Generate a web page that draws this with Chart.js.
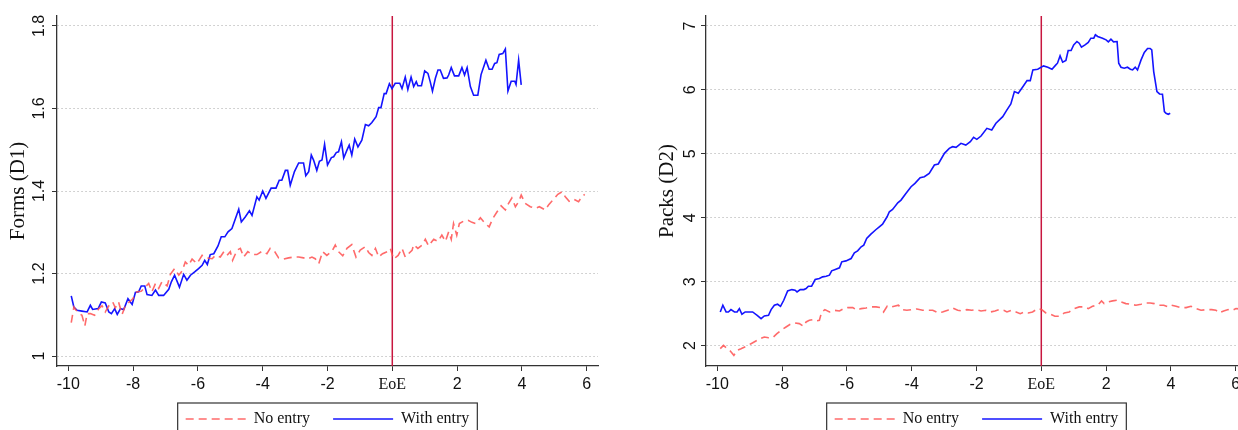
<!DOCTYPE html>
<html>
<head>
<meta charset="UTF-8">
<title>forms_packs.html</title>
<script src="https://cdn.jsdelivr.net/npm/chart.js"></script>
<style>
    html, body { margin: 0; padding: 0; background: #fff; }
    body { width: 1238px; height: 430px; overflow: hidden; position: relative; }
    .panel { position: absolute; top: 0; width: 620px; height: 430px; overflow: hidden; }
</style>
</head>
<body>
<div class="panel" style="left:0px"><canvas id="formsChart" width="620" height="445"></canvas></div>
<div class="panel" style="left:649px"><canvas id="packsChart" width="620" height="445"></canvas></div>

<script>
    // years relative to EoE, [t, value]
    const formsNoEntry = [
        [-9.91,1.081],[-9.83,1.119],[-9.76,1.111],[-9.66,1.103],[-9.58,1.099],[-9.49,1.073],[-9.42,1.103],[-9.32,1.103],
        [-9.19,1.099],[-9.06,1.115],[-8.96,1.122],[-8.86,1.107],[-8.75,1.122],[-8.63,1.131],[-8.55,1.117],[-8.45,1.131],
        [-8.34,1.101],[-8.24,1.122],[-8.12,1.131],[-8.01,1.139],[-7.88,1.156],[-7.75,1.157],[-7.62,1.168],[-7.52,1.176],
        [-7.42,1.156],[-7.31,1.176],[-7.21,1.164],[-7.11,1.180],[-6.95,1.170],[-6.85,1.198],[-6.72,1.212],[-6.59,1.196],
        [-6.49,1.206],[-6.39,1.228],[-6.29,1.220],[-6.18,1.235],[-6.03,1.224],[-5.87,1.244],[-5.72,1.238],[-5.56,1.236],
        [-5.46,1.244],[-5.31,1.240],[-5.20,1.253],[-5.10,1.244],[-5.00,1.253],[-4.93,1.232],[-4.79,1.257],[-4.69,1.261],
        [-4.59,1.240],[-4.46,1.253],[-4.33,1.246],[-4.18,1.246],[-4.02,1.254],[-3.87,1.248],[-3.77,1.261],[-3.63,1.253],
        [-3.51,1.238],[-3.35,1.235],[-3.20,1.238],[-3.05,1.240],[-2.89,1.240],[-2.74,1.238],[-2.63,1.235],[-2.48,1.240],
        [-2.38,1.236],[-2.27,1.224],[-2.15,1.253],[-2.02,1.244],[-1.86,1.254],[-1.76,1.269],[-1.66,1.253],[-1.53,1.243],
        [-1.40,1.261],[-1.25,1.270],[-1.12,1.240],[-0.99,1.257],[-0.83,1.265],[-0.73,1.251],[-0.63,1.244],[-0.52,1.261],
        [-0.42,1.240],[-0.30,1.248],[-0.16,1.253],[-0.06,1.261],[0.04,1.235],[0.18,1.244],[0.30,1.261],[0.40,1.240],
        [0.50,1.248],[0.61,1.256],[0.66,1.270],[0.79,1.261],[0.92,1.269],[1.02,1.283],[1.12,1.267],[1.28,1.283],
        [1.41,1.278],[1.53,1.293],[1.64,1.278],[1.74,1.301],[1.82,1.283],[1.89,1.321],[1.99,1.293],[2.07,1.321],
        [2.20,1.327],[2.34,1.329],[2.46,1.324],[2.58,1.321],[2.72,1.335],[2.87,1.321],[2.99,1.313],[3.10,1.333],
        [3.23,1.349],[3.36,1.364],[3.49,1.354],[3.59,1.370],[3.69,1.383],[3.80,1.362],[3.90,1.374],[3.98,1.390],
        [4.10,1.370],[4.26,1.362],[4.41,1.358],[4.54,1.362],[4.72,1.354],[4.83,1.367],[4.98,1.380],[5.11,1.392],
        [5.24,1.398],[5.34,1.386],[5.46,1.375],[5.60,1.380],[5.75,1.374],[5.85,1.386],[5.94,1.392]
    ];
    const formsWithEntry = [
        [-9.91,1.146],[-9.83,1.119],[-9.73,1.111],[-9.58,1.109],[-9.42,1.107],[-9.32,1.123],[-9.25,1.113],[-9.08,1.115],
        [-8.98,1.131],[-8.86,1.129],[-8.75,1.107],[-8.67,1.103],[-8.57,1.115],[-8.49,1.101],[-8.39,1.115],[-8.29,1.113],
        [-8.16,1.139],[-8.03,1.125],[-7.93,1.154],[-7.83,1.156],[-7.75,1.170],[-7.64,1.170],[-7.57,1.149],[-7.42,1.147],
        [-7.31,1.160],[-7.21,1.147],[-7.06,1.147],[-6.90,1.162],[-6.82,1.180],[-6.72,1.196],[-6.57,1.167],[-6.44,1.198],
        [-6.34,1.184],[-6.23,1.196],[-6.10,1.204],[-5.98,1.212],[-5.87,1.220],[-5.79,1.232],[-5.71,1.222],[-5.62,1.246],
        [-5.51,1.248],[-5.38,1.267],[-5.28,1.289],[-5.17,1.289],[-5.07,1.301],[-4.95,1.309],[-4.74,1.356],[-4.66,1.325],
        [-4.54,1.337],[-4.41,1.352],[-4.33,1.341],[-4.18,1.386],[-4.11,1.378],[-4.00,1.400],[-3.90,1.382],[-3.74,1.407],
        [-3.59,1.407],[-3.49,1.426],[-3.41,1.426],[-3.30,1.450],[-3.23,1.450],[-3.15,1.414],[-3.02,1.447],[-2.89,1.468],
        [-2.74,1.468],[-2.67,1.437],[-2.58,1.447],[-2.50,1.487],[-2.43,1.475],[-2.33,1.450],[-2.25,1.472],[-2.17,1.475],
        [-2.09,1.513],[-2.00,1.463],[-1.88,1.481],[-1.81,1.483],[-1.73,1.493],[-1.66,1.495],[-1.57,1.519],[-1.50,1.480],
        [-1.40,1.499],[-1.33,1.511],[-1.25,1.487],[-1.16,1.526],[-1.06,1.507],[-0.94,1.523],[-0.83,1.561],[-0.73,1.558],
        [-0.63,1.566],[-0.50,1.580],[-0.42,1.602],[-0.35,1.602],[-0.25,1.636],[-0.19,1.636],[-0.09,1.660],[-0.01,1.648],
        [0.09,1.661],[0.23,1.661],[0.30,1.648],[0.40,1.676],[0.48,1.646],[0.58,1.676],[0.66,1.653],[0.74,1.665],
        [0.79,1.655],[0.90,1.655],[1.00,1.691],[1.10,1.685],[1.17,1.665],[1.24,1.642],[1.33,1.673],[1.41,1.693],
        [1.48,1.693],[1.58,1.673],[1.69,1.674],[1.74,1.681],[1.82,1.699],[1.92,1.679],[2.05,1.679],[2.15,1.699],
        [2.23,1.681],[2.31,1.699],[2.41,1.653],[2.51,1.632],[2.64,1.632],[2.74,1.682],[2.89,1.717],[2.99,1.695],
        [3.08,1.695],[3.16,1.709],[3.23,1.711],[3.30,1.731],[3.41,1.733],[3.49,1.744],[3.57,1.642],[3.67,1.666],
        [3.78,1.666],[3.82,1.658],[3.90,1.717],[3.98,1.657]
    ];
    const packsNoEntry = [
        [-9.91,1.953],[-9.81,2.005],[-9.73,1.969],[-9.60,1.916],[-9.49,1.849],[-9.39,1.927],[-9.27,1.953],[-9.11,1.990],
        [-8.96,2.031],[-8.81,2.073],[-8.67,2.110],[-8.55,2.136],[-8.42,2.125],[-8.29,2.125],[-8.16,2.188],[-8.01,2.251],
        [-7.88,2.292],[-7.75,2.334],[-7.60,2.355],[-7.47,2.345],[-7.34,2.303],[-7.26,2.371],[-7.16,2.397],[-7.06,2.407],
        [-6.95,2.386],[-6.85,2.397],[-6.78,2.527],[-6.68,2.564],[-6.54,2.527],[-6.39,2.554],[-6.23,2.543],[-6.10,2.580],
        [-5.98,2.595],[-5.82,2.595],[-5.69,2.554],[-5.56,2.580],[-5.41,2.590],[-5.26,2.606],[-5.10,2.606],[-4.97,2.595],
        [-4.87,2.527],[-4.76,2.616],[-4.69,2.595],[-4.54,2.616],[-4.41,2.632],[-4.28,2.564],[-4.15,2.554],[-4.00,2.564],
        [-3.84,2.574],[-3.66,2.554],[-3.51,2.554],[-3.35,2.554],[-3.18,2.512],[-3.05,2.527],[-2.89,2.554],[-2.74,2.590],
        [-2.58,2.554],[-2.46,2.543],[-2.30,2.564],[-2.15,2.554],[-2.02,2.564],[-1.86,2.543],[-1.71,2.554],[-1.57,2.527],
        [-1.43,2.543],[-1.30,2.564],[-1.16,2.554],[-1.06,2.527],[-0.92,2.554],[-0.78,2.527],[-0.65,2.501],[-0.52,2.527],
        [-0.40,2.512],[-0.27,2.527],[-0.11,2.580],[0.01,2.564],[0.14,2.512],[0.28,2.491],[0.42,2.460],[0.56,2.460],
        [0.71,2.512],[0.86,2.527],[1.02,2.580],[1.17,2.606],[1.33,2.606],[1.45,2.580],[1.58,2.616],[1.74,2.632],
        [1.86,2.700],[1.94,2.658],[2.05,2.684],[2.20,2.700],[2.34,2.710],[2.46,2.684],[2.61,2.658],[2.77,2.648],
        [2.92,2.632],[3.08,2.648],[3.23,2.668],[3.36,2.668],[3.49,2.658],[3.64,2.632],[3.78,2.632],[3.92,2.606],
        [4.02,2.632],[4.16,2.616],[4.31,2.595],[4.47,2.595],[4.62,2.616],[4.77,2.580],[4.93,2.554],[5.11,2.564],
        [5.26,2.564],[5.39,2.554],[5.49,2.512],[5.63,2.543],[5.77,2.564],[5.91,2.554],[6.01,2.580],[6.12,2.575]
    ];
    const packsWithEntry = [
        [-9.91,2.527],[-9.83,2.632],[-9.73,2.527],[-9.66,2.527],[-9.58,2.564],[-9.47,2.527],[-9.39,2.527],[-9.32,2.580],
        [-9.24,2.491],[-9.14,2.527],[-9.01,2.527],[-8.91,2.527],[-8.77,2.475],[-8.65,2.423],[-8.55,2.465],[-8.42,2.475],
        [-8.34,2.564],[-8.24,2.632],[-8.14,2.648],[-8.05,2.616],[-7.95,2.710],[-7.83,2.856],[-7.70,2.877],[-7.60,2.867],
        [-7.54,2.841],[-7.44,2.877],[-7.33,2.877],[-7.26,2.893],[-7.19,2.930],[-7.09,2.930],[-6.98,3.034],[-6.85,3.050],
        [-6.75,3.076],[-6.64,3.086],[-6.54,3.102],[-6.47,3.170],[-6.36,3.191],[-6.23,3.217],[-6.16,3.311],[-6.03,3.326],
        [-5.87,3.363],[-5.77,3.452],[-5.67,3.483],[-5.56,3.546],[-5.48,3.572],[-5.39,3.676],[-5.26,3.744],[-5.10,3.817],
        [-5.00,3.859],[-4.90,3.901],[-4.76,4.016],[-4.69,4.094],[-4.59,4.130],[-4.43,4.235],[-4.33,4.277],[-4.18,4.381],
        [-4.02,4.486],[-3.90,4.538],[-3.74,4.627],[-3.61,4.642],[-3.46,4.695],[-3.30,4.825],[-3.18,4.841],[-2.99,5.008],
        [-2.84,5.086],[-2.74,5.112],[-2.63,5.102],[-2.48,5.164],[-2.33,5.138],[-2.19,5.191],[-2.09,5.258],[-1.99,5.227],
        [-1.86,5.279],[-1.68,5.399],[-1.53,5.373],[-1.40,5.478],[-1.19,5.582],[-1.06,5.687],[-0.94,5.781],[-0.83,5.974],
        [-0.71,5.948],[-0.58,6.042],[-0.44,6.146],[-0.34,6.146],[-0.26,6.313],[-0.11,6.324],[0.07,6.376],[0.20,6.355],
        [0.33,6.324],[0.45,6.392],[0.50,6.418],[0.58,6.533],[0.66,6.433],[0.76,6.460],[0.83,6.616],[0.92,6.616],
        [1.00,6.705],[1.10,6.757],[1.17,6.731],[1.24,6.668],[1.35,6.705],[1.45,6.742],[1.53,6.809],[1.62,6.809],
        [1.67,6.862],[1.74,6.836],[1.89,6.809],[2.00,6.783],[2.07,6.752],[2.15,6.794],[2.23,6.752],[2.34,6.757],
        [2.39,6.418],[2.46,6.355],[2.56,6.339],[2.66,6.355],[2.75,6.324],[2.82,6.313],[2.90,6.355],[2.97,6.313],
        [3.08,6.470],[3.18,6.585],[3.28,6.648],[3.36,6.648],[3.41,6.627],[3.47,6.287],[3.57,5.974],[3.65,5.937],
        [3.74,5.932],[3.80,5.661],[3.85,5.634],[3.92,5.619],[3.98,5.634]
    ];

    const xTicks = [-10, -8, -6, -4, -2, 0, 2, 4, 6];
    const xTickLabels = ['-10', '-8', '-6', '-4', '-2', 'EoE', '2', '4', '6'];
    const formsTicks = [1, 1.2, 1.4, 1.6, 1.8];
    const formsTickLabels = ['1', '1.2', '1.4', '1.6', '1.8'];
    const packsTicks = [2, 3, 4, 5, 6, 7];
    const packsTickLabels = ['2', '3', '4', '5', '6', '7'];
    const eoeAt = 0;
    const seriesNames = ['No entry', 'With entry'];

    Chart.defaults.font.family = "'Liberation Sans', Arial, sans-serif";
    Chart.defaults.color = '#111';

    // red vertical line at end of exclusivity
    const eoeLine = {
        id: 'eoeLine',
        beforeDatasetsDraw(chart) {
            const x = chart.scales.x.getPixelForValue(eoeAt);
            const area = chart.chartArea;
            const ctx = chart.ctx;
            ctx.save();
            ctx.strokeStyle = '#c8163f';
            ctx.lineWidth = 1.5;
            ctx.beginPath();
            ctx.moveTo(x, area.top);
            ctx.lineTo(x, area.bottom);
            ctx.stroke();
            ctx.restore();
        }
    };

    // legend centred under the plot region, a bit nearer the axis, + frame (stata style)
    const legendFrame = {
        id: 'legendFrame',
        afterUpdate(chart) {
            const lg = chart.legend;
            const boxes = lg.legendHitBoxes;
            if (!boxes || !boxes.length) return;
            const l = Math.min(...boxes.map(b => b.left));
            const r = Math.max(...boxes.map(b => b.left + b.width));
            const dx = (chart.chartArea.left + chart.chartArea.right) / 2 - (l + r) / 2;
            const dy = (chart.chartArea.bottom + 45) - boxes[0].top;
            lg.left += dx;
            lg.right += dx;
            lg.top += dy;
            lg.bottom += dy;
            boxes.forEach(b => { b.left += dx; b.top += dy; });
        },
        afterDraw(chart) {
            const boxes = chart.legend.legendHitBoxes;
            if (!boxes || !boxes.length) return;
            const left = Math.min(...boxes.map(b => b.left)) - 8;
            const right = Math.max(...boxes.map(b => b.left + b.width)) + 8;
            const top = boxes[0].top - 8;
            const ctx = chart.ctx;
            ctx.save();
            ctx.strokeStyle = '#333';
            ctx.lineWidth = 1.2;
            ctx.strokeRect(left, top, right - left, 40);
            ctx.restore();
        }
    };

    function toPoints(arr) {
        return arr.map(p => ({x: p[0], y: p[1]}));
    }

    // legend symbols: take dash and width from the line, not the point
    function legendLabels(chart) {
        return Chart.defaults.plugins.legend.labels.generateLabels(chart).map(item => {
            const ds = chart.data.datasets[item.datasetIndex];
            item.lineDash = ds.borderDash || [];
            item.lineWidth = ds.borderWidth;
            item.strokeStyle = ds.borderColor;
            return item;
        });
    }

    function makeChart(id, title, noEntry, withEntry, yMin, yMax, yTicks, yLabels, labelPad) {
        return new Chart(document.getElementById(id), {
            type: 'line',
            data: {
                datasets: [{
                    label: seriesNames[0],
                    data: toPoints(noEntry),
                    borderColor: 'rgba(255,80,80,0.85)',
                    borderWidth: 1.6,
                    borderDash: [8, 5],
                    pointRadius: 0,
                    tension: 0
                }, {
                    label: seriesNames[1],
                    data: toPoints(withEntry),
                    borderColor: '#1414ff',
                    borderWidth: 1.6,
                    pointRadius: 0,
                    tension: 0
                }]
            },
            options: {
                responsive: false,
                animation: false,
                devicePixelRatio: 1,
                layout: { padding: { left: 0, right: 22, top: 16, bottom: 0 } },
                plugins: {
                    tooltip: { enabled: false },
                    legend: {
                        position: 'bottom',
                        labels: {
                            usePointStyle: true,
                            pointStyle: 'line',
                            pointStyleWidth: 60,
                            padding: 23,
                            color: '#111',
                            generateLabels: legendLabels,
                            font: { family: "'Liberation Serif', 'Times New Roman', serif", size: 16 }
                        }
                    }
                },
                scales: {
                    x: {
                        type: 'linear',
                        min: -10.35,
                        max: 6.35,
                        afterBuildTicks: s => { s.ticks = xTicks.map(v => ({value: v})); },
                        afterFit: s => { s.height = 30; },
                        grid: { drawOnChartArea: false, tickLength: 5, tickColor: '#333', tickWidth: 1 },
                        border: { display: true, color: '#333', width: 1.3 },
                        ticks: {
                            padding: 4,
                            maxRotation: 0,
                            color: '#111',
                            callback: v => xTickLabels[xTicks.indexOf(v)],
                            font: c => (c.tick && c.tick.value === eoeAt)
                                ? { family: "'Liberation Serif', serif", size: 16 }
                                : { family: "'Liberation Sans', sans-serif", size: 16 }
                        }
                    },
                    y: {
                        min: yMin,
                        max: yMax,
                        afterBuildTicks: s => { s.ticks = yTicks.map(v => ({value: v})); },
                        afterFit: s => { s.width = 57; },
                        grid: { color: '#c4c4c4', lineWidth: 1, tickLength: 5, tickColor: '#333', tickWidth: 1, tickBorderDash: [] },
                        border: { display: true, color: '#333', width: 1.3, dash: [1.5, 2.5] },
                        title: {
                            display: true,
                            text: title,
                            color: '#111',
                            padding: { top: 6, bottom: 0 },
                            font: { family: "'Liberation Serif', 'Times New Roman', serif", size: 21 }
                        },
                        ticks: {
                            minRotation: 90,
                            maxRotation: 90,
                            crossAlign: 'center',
                            padding: labelPad,
                            color: '#111',
                            font: { size: 16 },
                            callback: v => yLabels[yTicks.indexOf(v)]
                        }
                    }
                }
            },
            plugins: [eoeLine, legendFrame]
        });
    }

    makeChart('formsChart', 'Forms (D1)', formsNoEntry, formsWithEntry, 0.976, 1.824, formsTicks, formsTickLabels, 1);
    makeChart('packsChart', 'Packs (D2)', packsNoEntry, packsWithEntry, 1.682, 7.156, packsTicks, packsTickLabels, 6);
</script>
</body>
</html>
